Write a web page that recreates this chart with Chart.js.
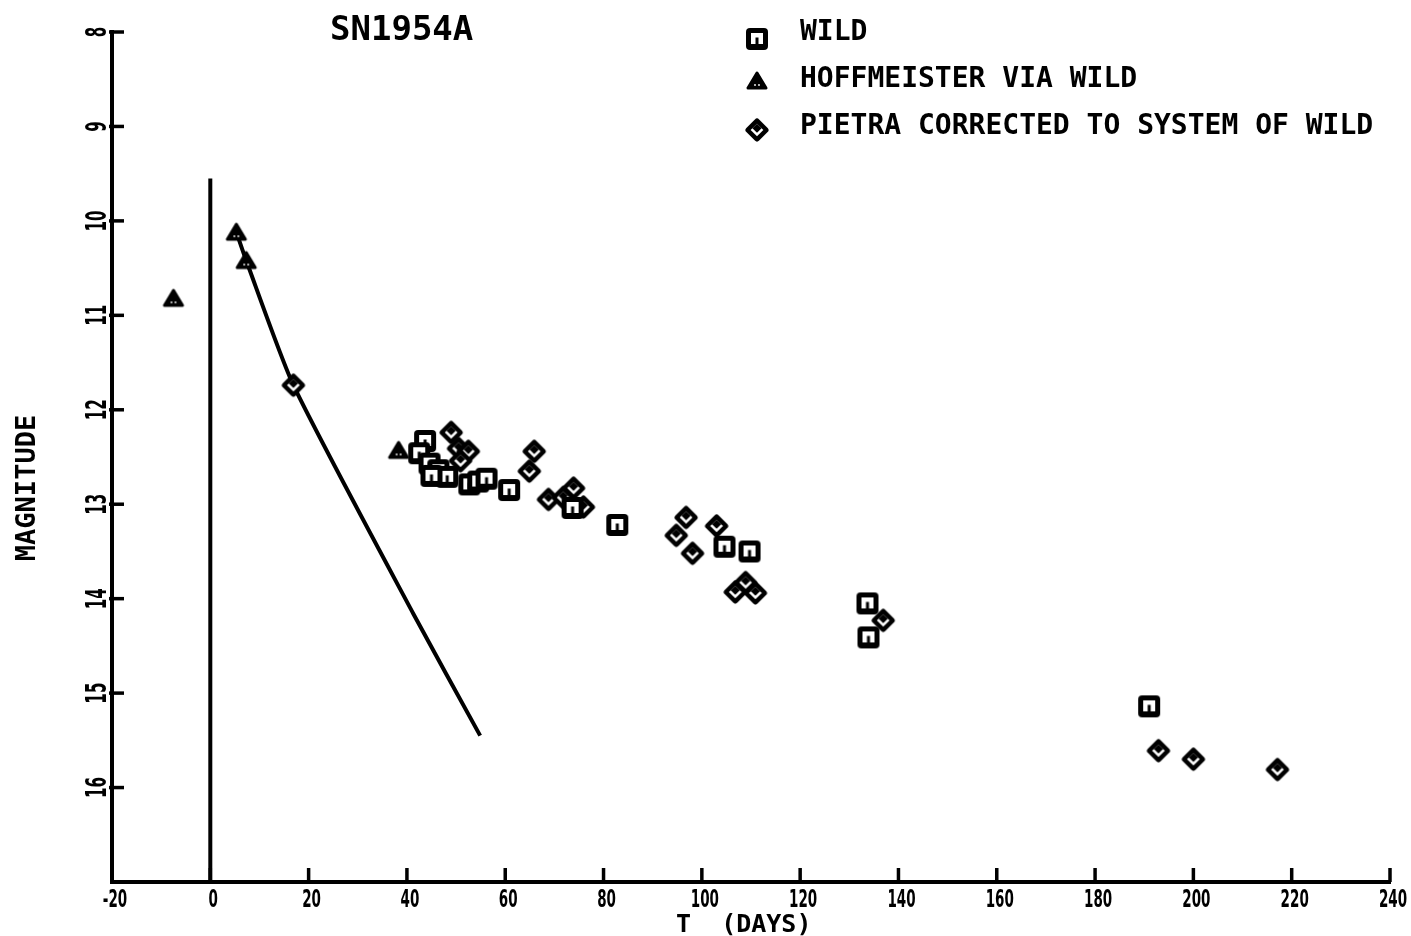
<!DOCTYPE html>
<html>
<head>
<meta charset="utf-8">
<title>SN1954A</title>
<script src="https://cdn.jsdelivr.net/npm/chart.js@4.4.0/dist/chart.umd.min.js"></script>
<style>
  html, body { margin: 0; padding: 0; background: #fff; }
  #wrap { position: relative; width: 1411px; height: 936px; }
</style>
</head>
<body>
<div id="wrap"><canvas id="lc"></canvas></div>
<script>
// T in days, magnitude
const wildDays = [43.7, 42.5, 44.6, 46.4, 48.2, 45.0, 52.7, 54.5, 56.2, 60.8, 73.7, 82.8, 104.6, 109.7, 133.7, 133.9, 191.0];
const wildMag  = [12.33, 12.46, 12.57, 12.64, 12.71, 12.70, 12.79, 12.76, 12.73, 12.85, 13.04, 13.22, 13.45, 13.50, 14.05, 14.41, 15.14];

const hoffDays = [-7.5, 5.3, 7.3, 38.3];
const hoffMag  = [10.82, 10.12, 10.42, 12.43];

const pietraDays = [16.9, 49.0, 50.5, 52.5, 50.9, 65.9, 64.9, 68.8, 73.9, 71.8, 75.9, 96.8, 94.8, 98.1, 103.0, 108.9, 106.8, 110.9, 136.9, 192.9, 200.0, 217.1];
const pietraMag  = [11.74, 12.24, 12.41, 12.44, 12.54, 12.44, 12.65, 12.95, 12.83, 12.93, 13.03, 13.14, 13.33, 13.52, 13.23, 13.83, 13.93, 13.94, 14.23, 15.61, 15.70, 15.81];

// drawn decline curve
const fitDays = [5.3, 7.3, 16.9, 41.3, 54.9];
const fitMag  = [10.12, 10.42, 11.74, 14.16, 15.45];

// vertical marker at T = 0
const zeroDays = [0, 0];
const zeroMag  = [9.55, 17];

const xTickValues = [-20, 0, 20, 40, 60, 80, 100, 120, 140, 160, 180, 200, 220, 240];
const xTickLabels = ['-20', '0', '20', '40', '60', '80', '100', '120', '140', '160', '180', '200', '220', '240'];
const yTickValues = [8, 9, 10, 11, 12, 13, 14, 15, 16];
const yTickLabels = ['8', '9', '10', '11', '12', '13', '14', '15', '16'];

const seriesNames = ['WILD', 'HOFFMEISTER VIA WILD', 'PIETRA CORRECTED TO SYSTEM OF WILD'];

const pts = (xs, ys) => xs.map((x, i) => ({ x: x, y: ys[i] }));

// plotter style symbols
function squareMark() {
  const c = document.createElement('canvas');
  c.width = 24; c.height = 24;
  const g = c.getContext('2d');
  g.fillStyle = '#000';
  g.beginPath(); g.roundRect(1, 1, 22, 22, 4); g.fill();
  g.fillStyle = '#fff'; g.fillRect(6, 6, 12, 11);
  g.fillStyle = '#000'; g.fillRect(10.5, 10.5, 3, 7);
  return c;
}

function diamondMark() {
  const c = document.createElement('canvas');
  c.width = 28; c.height = 28;
  const g = c.getContext('2d');
  g.translate(14, 14);
  g.rotate(Math.PI / 4);
  g.fillStyle = '#000';
  g.beginPath(); g.roundRect(-9, -9, 18, 18, 3); g.fill();
  g.fillStyle = '#fff'; g.fillRect(-4.5, -4.5, 9, 9);
  g.fillStyle = '#000'; g.fillRect(-4.5, -4.5, 6.5, 6.5);
  return c;
}

function triangleMark() {
  const c = document.createElement('canvas');
  c.width = 24; c.height = 22;
  const g = c.getContext('2d');
  g.fillStyle = '#000'; g.strokeStyle = '#000';
  g.lineWidth = 3; g.lineJoin = 'round';
  g.beginPath(); g.moveTo(12, 3); g.lineTo(21, 18); g.lineTo(3, 18); g.closePath();
  g.fill(); g.stroke();
  g.fillStyle = '#fff';
  g.beginPath(); g.arc(10, 15, 0.9, 0, Math.PI * 2); g.fill();
  g.beginPath(); g.arc(14, 15, 0.9, 0, Math.PI * 2); g.fill();
  return c;
}

const marks = [squareMark(), triangleMark(), diamondMark()];

const monoFont = '"DejaVu Sans Mono", monospace';
const tickFont = 'bold 25px "DejaVu Sans Condensed", "DejaVu Sans", sans-serif';
const yTickFont = 'bold 28px "DejaVu Sans Condensed", "DejaVu Sans", sans-serif';

// tick marks, labels, titles and key
const plotterDecor = {
  id: 'plotterDecor',
  afterDraw(chart) {
    const ctx = chart.ctx;
    const xs = chart.scales.x, ys = chart.scales.y;
    const area = chart.chartArea;
    ctx.save();
    ctx.fillStyle = '#000';
    ctx.strokeStyle = '#000';

    // x ticks point up into the plot
    ctx.lineWidth = 3.5;
    ctx.font = tickFont;
    ctx.textAlign = 'center';
    ctx.textBaseline = 'alphabetic';
    xTickValues.forEach((v, i) => {
      const px = xs.getPixelForValue(v);
      if (i > 0) {
        ctx.beginPath(); ctx.moveTo(px, area.bottom - 14); ctx.lineTo(px, area.bottom); ctx.stroke();
      }
      ctx.save();
      ctx.translate(px + 3, area.bottom + 25);
      ctx.scale(0.6, 1);
      ctx.fillText(xTickLabels[i], 0, 0);
      ctx.restore();
    });

    // y ticks point right, labels read upwards
    ctx.font = yTickFont;
    yTickValues.forEach((v, i) => {
      const py = ys.getPixelForValue(v);
      ctx.beginPath(); ctx.moveTo(area.left - 3, py); ctx.lineTo(area.left + 12, py); ctx.stroke();
      ctx.save();
      ctx.translate(area.left - 13, py);
      ctx.rotate(-Math.PI / 2);
      ctx.scale(0.6, 1);
      ctx.textBaseline = 'middle';
      ctx.fillText(yTickLabels[i], 0, 0);
      ctx.restore();
    });

    // axis titles
    ctx.textAlign = 'left';
    ctx.textBaseline = 'alphabetic';
    ctx.font = 'bold 25px ' + monoFont;
    ctx.fillText('T  (DAYS)', 676, 932);

    ctx.save();
    ctx.translate(28, 488);
    ctx.rotate(-Math.PI / 2);
    ctx.font = 'bold 27px ' + monoFont;
    ctx.textAlign = 'center';
    ctx.textBaseline = 'middle';
    ctx.fillText('MAGNITUDE', 0, 0);
    ctx.restore();

    // title
    ctx.font = 'bold 34px ' + monoFont;
    ctx.fillText('SN1954A', 330, 40);

    // key
    const rows = [{ my: 39, ty: 40 }, { my: 81, ty: 87 }, { my: 130, ty: 134 }];
    ctx.font = 'bold 28px ' + monoFont;
    rows.forEach((r, i) => {
      const m = marks[i];
      ctx.drawImage(m, 757 - m.width / 2, r.my - m.height / 2);
      ctx.fillText(seriesNames[i], 800, r.ty);
    });
    ctx.restore();
  }
};

new Chart(document.getElementById('lc'), {
  type: 'scatter',
  data: {
    datasets: [
      { label: seriesNames[0], data: pts(wildDays, wildMag), pointStyle: marks[0], pointRadius: 11, order: 1 },
      { label: seriesNames[1], data: pts(hoffDays, hoffMag), pointStyle: marks[1], pointRadius: 10, order: 1 },
      { label: seriesNames[2], data: pts(pietraDays, pietraMag), pointStyle: marks[2], pointRadius: 11, order: 1 },
      {
        label: 'decline', type: 'line', data: pts(fitDays, fitMag),
        borderColor: '#000', borderWidth: 4, pointRadius: 0,
        tension: 0.2, borderJoinStyle: 'round', order: 2
      },
      {
        label: 'T0', type: 'line', data: pts(zeroDays, zeroMag),
        borderColor: '#000', borderWidth: 4, pointRadius: 0, order: 2
      }
    ]
  },
  options: {
    responsive: true,
    maintainAspectRatio: false,
    animation: false,
    layout: { padding: { left: 0, right: 21, top: 32, bottom: 0 } },
    plugins: {
      legend: { display: false },
      tooltip: { enabled: false }
    },
    scales: {
      x: {
        type: 'linear',
        min: -20,
        max: 240,
        afterBuildTicks: (s) => { s.ticks = xTickValues.map((v) => ({ value: v })); },
        afterFit: (s) => { s.height = 54; },
        ticks: { display: false },
        grid: { display: false },
        border: { display: true, color: '#000', width: 4 }
      },
      y: {
        type: 'linear',
        reverse: true,
        min: 8,
        max: 17,
        afterBuildTicks: (s) => { s.ticks = yTickValues.map((v) => ({ value: v })); },
        afterFit: (s) => { s.width = 112; },
        ticks: { display: false },
        grid: { display: false },
        border: { display: true, color: '#000', width: 4 }
      }
    }
  },
  plugins: [plotterDecor]
});
</script>
</body>
</html>
